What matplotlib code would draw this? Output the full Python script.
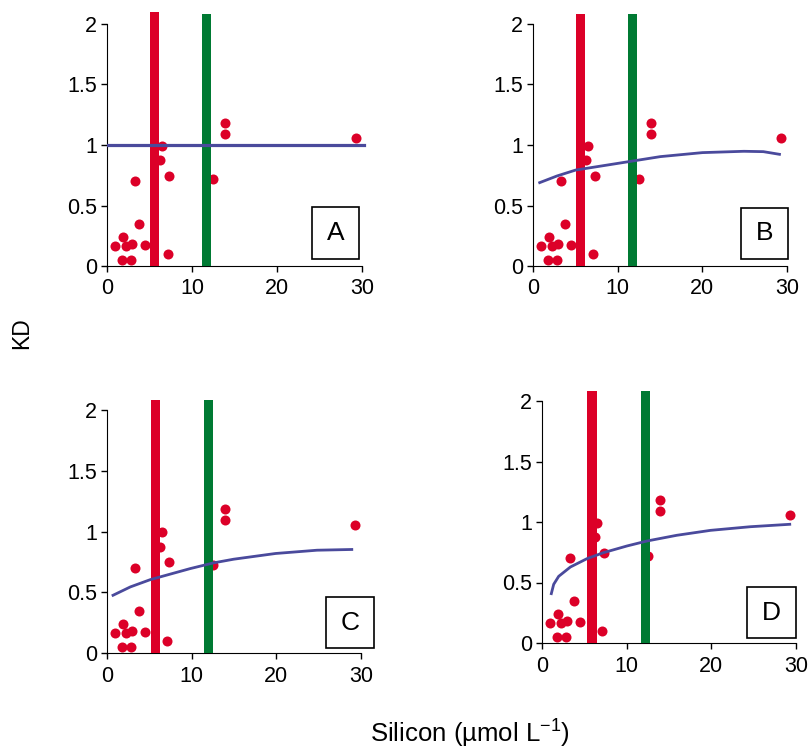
import matplotlib
matplotlib.use('Agg')
import matplotlib.pyplot as plt
from matplotlib.patches import Rectangle

plt.rcParams['font.family'] = ['Liberation Sans', 'DejaVu Sans']

# measured points, same in every panel
si = [0.90, 1.88, 1.80, 2.27, 2.94, 2.86, 3.33, 3.76, 4.51, 6.51, 6.24, 7.29, 7.14, 12.47, 13.88, 13.92, 29.33]
kd = [0.165, 0.237, 0.047, 0.165, 0.179, 0.052, 0.70, 0.347, 0.171, 0.994, 0.873, 0.747, 0.099, 0.722, 1.091, 1.182, 1.055]

# fitted lines
fit_a_x = [0.0, 30.2]
fit_a_y = [1.0, 1.0]
fit_b_x = [0.79, 2.83, 5.04, 10.0, 15.04, 20.0, 24.9, 27.2, 29.1]
fit_b_y = [0.689, 0.744, 0.793, 0.848, 0.904, 0.937, 0.948, 0.945, 0.923]
fit_c_x = [0.71, 2.76, 5.12, 9.84, 12.6, 14.96, 19.9, 24.8, 28.9]
fit_c_y = [0.475, 0.544, 0.604, 0.695, 0.742, 0.772, 0.819, 0.846, 0.852]
fit_d_x = [1.10, 1.38, 1.97, 3.35, 5.31, 7.28, 10.04, 12.4, 15.9, 19.9, 24.6, 29.25]
fit_d_y = [0.408, 0.485, 0.551, 0.628, 0.697, 0.747, 0.802, 0.843, 0.890, 0.931, 0.961, 0.981]

labels = ['A', 'B', 'C', 'D']
fits = [(fit_a_x, fit_a_y), (fit_b_x, fit_b_y), (fit_c_x, fit_c_y), (fit_d_x, fit_d_y)]

# red and green threshold bars per panel
red_x = [5.6, 5.6, 5.7, 5.9]
green_x = [11.7, 11.75, 12.0, 12.2]
red_top = [2.1, 2.08, 2.08, 2.08]
green_top = [2.08, 2.08, 2.08, 2.08]
bar_w = 1.12

# layout in pixels: x origin, y origin, px per unit x, px per unit y, letter box (l, t, r, b)
W, H = 812, 748
layout = [
    (107, 266, 8.5, 121, (312, 207, 359, 259)),
    (533, 266, 8.47, 121, (741, 208, 788, 259)),
    (107, 653, 8.47, 121.5, (326, 597, 374, 648)),
    (542, 643, 8.47, 121, (747, 587, 796, 638)),
]
XMAX, YMAX = 31, 2.12

fig = plt.figure(figsize=(W / 100, H / 100), dpi=100)

for i in range(4):
    x0, y0, sx, sy, box = layout[i]
    aw, ah = XMAX * sx, YMAX * sy
    ax = fig.add_axes([x0 / W, (H - y0) / H, aw / W, ah / H])
    ax.set_xlim(0, XMAX)
    ax.set_ylim(0, YMAX)

    ax.scatter(si, kd, s=52, color='#dc0028', zorder=2, linewidths=0)
    ax.bar([red_x[i], green_x[i]], [red_top[i], green_top[i]], width=bar_w,
           color=['#dc0028', '#007a33'], zorder=3)
    fx, fy = fits[i]
    ax.plot(fx, fy, color='#4a4a9c', lw=2.3 if i == 0 else 2.0, zorder=4)

    for s in ['top', 'right']:
        ax.spines[s].set_visible(False)
    ax.spines['left'].set_bounds(0, 2)
    ax.spines['bottom'].set_bounds(0, 30)
    ax.set_xticks([0, 10, 20, 30])
    ax.set_yticks([0, 0.5, 1, 1.5, 2])
    ax.set_yticklabels(['0', '0.5', '1', '1.5', '2'])
    ax.tick_params(direction='out', length=4, width=1, labelsize=15.5)
    ax.tick_params(axis='x', pad=5)
    ax.tick_params(axis='y', pad=3)

    # letter box
    l, t, r, b = box
    bx, by = (l - x0) / aw, (y0 - b) / ah
    bw, bh = (r - l) / aw, (b - t) / ah
    ax.add_patch(Rectangle((bx, by), bw, bh, transform=ax.transAxes, fill=False,
                           edgecolor='black', lw=1.2, zorder=5, clip_on=False))
    ax.text(bx + bw / 2, by + bh / 2, labels[i], transform=ax.transAxes,
            ha='center', va='center', fontsize=19, zorder=6)

fig.text(22 / W, 1 - 333 / H, 'KD', rotation=90, ha='center', va='center', fontsize=16.5)
fig.text(470 / W, 1 - 733 / H, 'Silicon (\u00b5mol L$^{\\mathregular{-1}}$)',
         ha='center', va='center', fontsize=18.5)

plt.savefig('out.png', dpi=100)
